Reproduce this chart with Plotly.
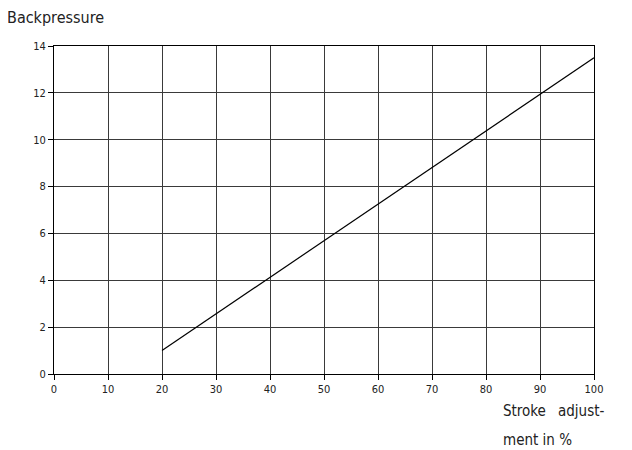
import plotly.graph_objects as go

stroke_pct = [20, 100]
backpressure = [1.0, 13.5]
x_ticks = [0, 10, 20, 30, 40, 50, 60, 70, 80, 90, 100]
y_ticks = [0, 2, 4, 6, 8, 10, 12, 14]

FONT = "DejaVu Sans Condensed, Liberation Sans Narrow, Liberation Sans, sans-serif"

# page body has an 8px margin; figure drawn at offset (8, 8)
OFF = 8
W, H = 624, 442
L, T = 54 - OFF, 46 - OFF
R = OFF + W - 594
B = OFF + H - 374

fig = go.Figure()
fig.add_trace(go.Scatter(x=stroke_pct, y=backpressure, mode="lines",
                         line=dict(color="black", width=1.2), showlegend=False,
                         hoverinfo="skip"))

axis_common = dict(showgrid=True, gridcolor="#3a3a3a", gridwidth=1,
                   showline=True, linecolor="black", linewidth=1, mirror=True,
                   ticks="outside", ticklen=5, tickcolor="black", zeroline=False,
                   tickfont=dict(family=FONT, size=11, color="#222"))

fig.update_layout(
    width=W, height=H,
    margin=dict(l=L, r=R, t=T, b=B),
    paper_bgcolor="white", plot_bgcolor="white",
    font=dict(family=FONT, size=11, color="#222"),
    xaxis=dict(range=[0, 100], tickvals=x_ticks, **axis_common),
    yaxis=dict(range=[0, 14], tickvals=y_ticks, **axis_common),
)

pw = W - L - R
ph = H - T - B


def px(xp, yp):
    # convert screen pixel position to paper coords
    return (xp - OFF - L) / pw, (H - B - (yp - OFF)) / ph


texts = [
    ("Backpressure", 5, 18, "left", 16),
    ("Stroke", 501, 411, "left", 15),
    ("adjust-", 606, 411, "right", 15),
    ("ment in %", 501, 440, "left", 15),
]
for txt, xp, yp, anch, size in texts:
    xx, yy = px(xp, yp)
    fig.add_annotation(text=txt, x=xx, y=yy, xref="paper", yref="paper", showarrow=False,
                       font=dict(family=FONT, size=size, color="#222"),
                       xanchor=anch, yanchor="middle")

fig.write_html("out.html")
